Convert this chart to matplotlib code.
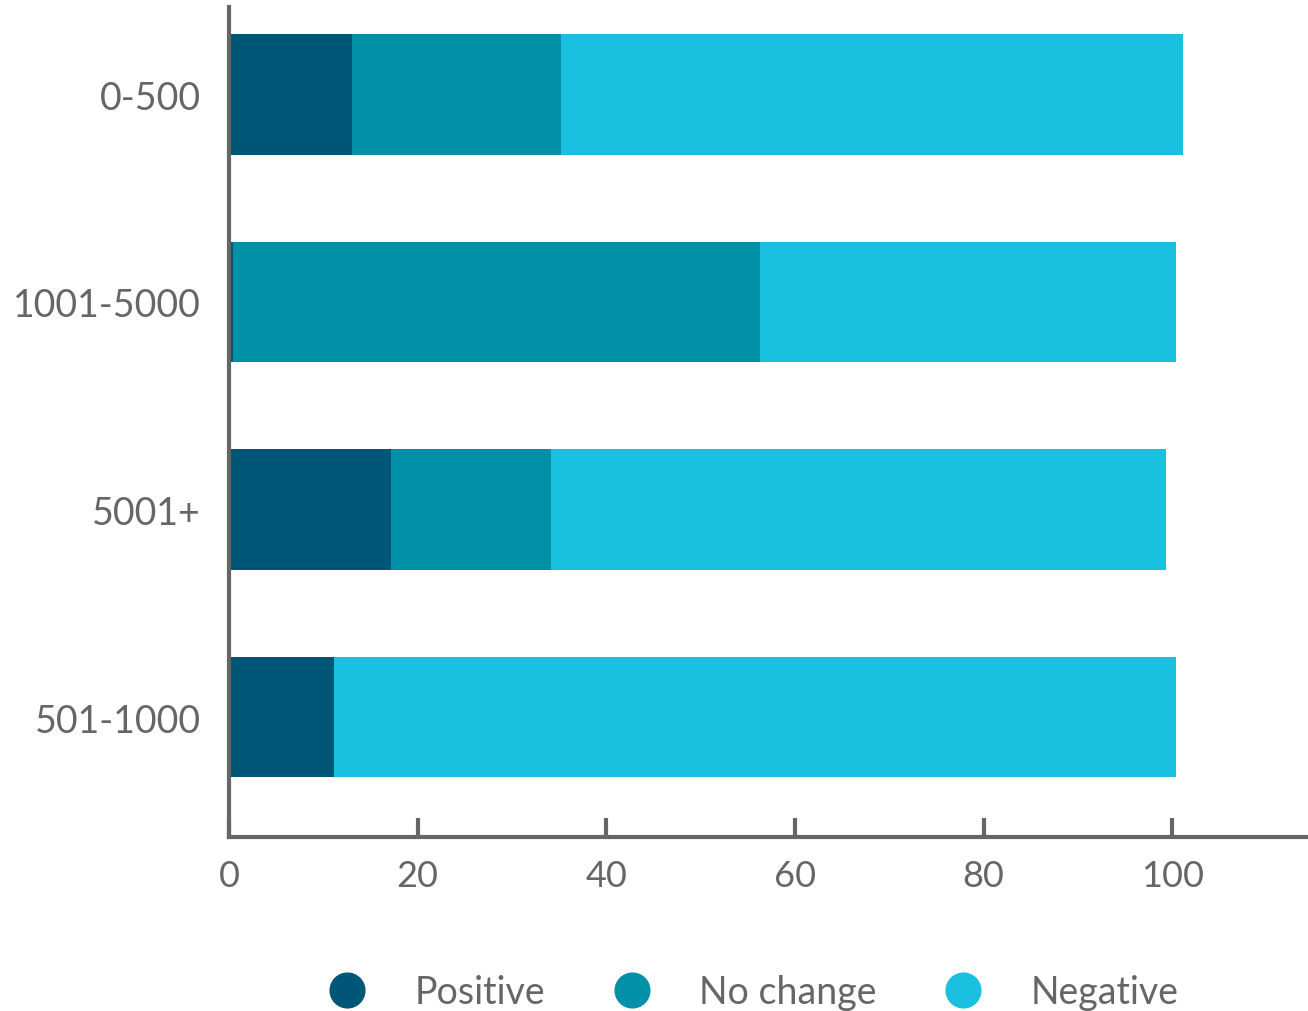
import matplotlib
matplotlib.use("Agg")
import matplotlib.pyplot as plt
from matplotlib.lines import Line2D

plt.rcParams['font.family'] = ['Lato', 'DejaVu Sans']

categories = ['0-500', '1001-5000', '5001+', '501-1000']
positive = [13.0, 0.4, 17.2, 11.1]
no_change = [22.2, 55.9, 16.9, 0.0]
negative = [66.0, 44.1, 65.2, 89.3]

series_names = ['Positive', 'No change', 'Negative']
colors = ['#005676', '#0090A8', '#1AC0E0']
gray = '#666666'

fig = plt.figure(figsize=(13.08, 10.12), dpi=100)
ax = fig.add_axes([0.175, 0.172, 0.825, 0.820])

pos = list(range(len(categories)))
left = [0.0] * len(categories)
for vals, c in zip([positive, no_change, negative], colors):
    ax.barh(pos, vals, left=left, height=0.58, color=c, linewidth=0)
    left = [l + v for l, v in zip(left, vals)]

ax.set_yticks(pos)
ax.set_yticklabels(categories)
ax.set_ylim(3.577, -0.42)
ax.set_xlim(0, 114.4)
ax.set_xticks([0, 20, 40, 60, 80, 100])

for s in ['top', 'right']:
    ax.spines[s].set_visible(False)
for s in ['left', 'bottom']:
    ax.spines[s].set_color(gray)
    ax.spines[s].set_linewidth(3)

ax.tick_params(axis='x', direction='in', length=14, width=3, color=gray,
               labelsize=26, labelcolor=gray, pad=16)
ax.tick_params(axis='y', length=0, labelsize=27, labelcolor=gray, pad=20)

handles = [Line2D([], [], marker='o', linestyle='', markersize=25,
                  markerfacecolor=c, markeredgecolor=c) for c in colors]
fig.legend(handles, series_names, loc='center', bbox_to_anchor=(0.569, 0.019),
           ncol=3, frameon=False, fontsize=27, labelcolor=gray,
           handletextpad=0.8, columnspacing=1.3)

fig.savefig('out.png', dpi=100)
